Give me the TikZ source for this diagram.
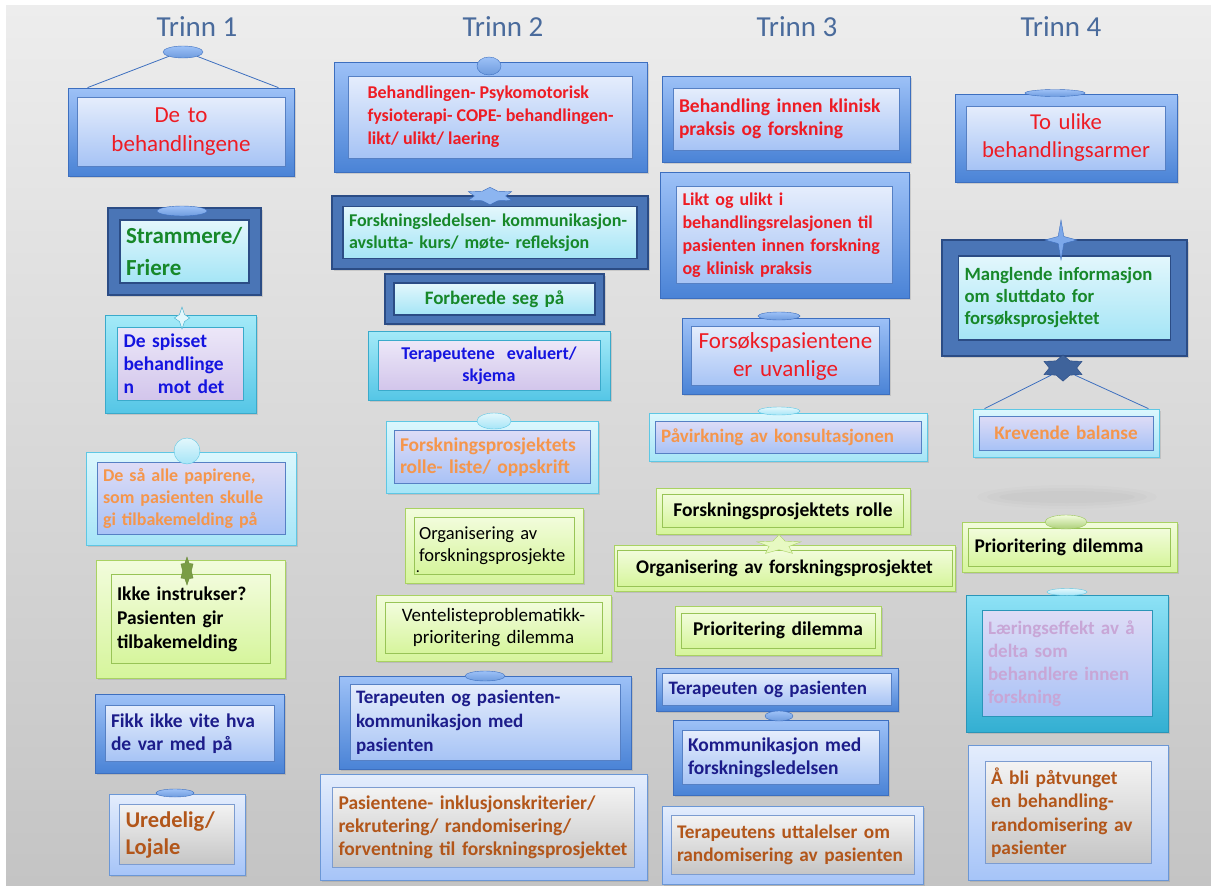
\documentclass[tikz,border=0pt]{standalone}
\usepackage{fontspec}
\setmainfont{Carlito}
\usetikzlibrary{shapes.geometric, shadows}

% text colours
\definecolor{tred}{HTML}{EE1C24}
\definecolor{tgreen}{HTML}{17882A}
\definecolor{tblue}{HTML}{1414E0}
\definecolor{torange}{HTML}{F5964C}
\definecolor{tnavy}{HTML}{1C1C8A}
\definecolor{tbrown}{HTML}{B2561A}
\definecolor{tlilac}{HTML}{C8A6D6}
\definecolor{ttitle}{HTML}{4A6B9C}
\definecolor{bgtop}{HTML}{EDEDED}
\definecolor{bgbot}{HTML}{C4C4C4}
% frame colours
\definecolor{bfTop}{HTML}{9DC1F7}
\definecolor{bfBot}{HTML}{4A83D6}
\definecolor{bfLine}{HTML}{3D6FBF}
\definecolor{biTop}{HTML}{E5EDFC}
\definecolor{biBot}{HTML}{A6C3F5}
\definecolor{biLine}{HTML}{5680C4}
\definecolor{dfFill}{HTML}{4A75B6}
\definecolor{dfLine}{HTML}{2B4C85}
\definecolor{ciTop}{HTML}{E3F7FC}
\definecolor{ciBot}{HTML}{A4E5F6}
\definecolor{bvTop}{HTML}{A4EAF8}
\definecolor{bvBot}{HTML}{55C6E6}
\definecolor{bvLine}{HTML}{3AAACB}
\definecolor{lvTop}{HTML}{ECE7F8}
\definecolor{lvBot}{HTML}{D2C5EB}
\definecolor{pcTop}{HTML}{DBF7FD}
\definecolor{pcBot}{HTML}{A6E5F7}
\definecolor{pcLine}{HTML}{5EC7E4}
\definecolor{lbTop}{HTML}{DEDCF6}
\definecolor{lbBot}{HTML}{A8C2F6}
\definecolor{gfTop}{HTML}{F2FCDC}
\definecolor{gfBot}{HTML}{D6F59C}
\definecolor{gfLine}{HTML}{A9D262}
\definecolor{giLine}{HTML}{98C456}
\definecolor{lfTop}{HTML}{E4EDFC}
\definecolor{lfBot}{HTML}{A6C4F8}
\definecolor{lfLine}{HTML}{6B97D6}
\definecolor{grTop}{HTML}{F3F3F3}
\definecolor{grBot}{HTML}{C5C5C5}
\definecolor{grLine}{HTML}{7C9CD0}
\definecolor{tlTop}{HTML}{8EE2F6}
\definecolor{tlBot}{HTML}{33AFD2}
\definecolor{tlLine}{HTML}{2A95B8}

\tikzset{
  softshadow/.style={drop shadow={opacity=0.25, shadow xshift=1.5pt, shadow yshift=-2pt}},
  frame/.style={rectangle, inner sep=0pt, softshadow},
  bluefr/.style={frame, draw=bfLine, line width=0.8pt, top color=bfTop, bottom color=bfBot},
  darkfr/.style={frame, draw=dfLine, line width=1.2pt, fill=dfFill},
  bevelfr/.style={frame, draw=bvLine, line width=0.8pt, top color=bvTop, bottom color=bvBot},
  palefr/.style={frame, draw=pcLine, line width=0.8pt, top color=pcTop, bottom color=pcBot},
  greenfr/.style={frame, draw=gfLine, line width=0.8pt, top color=gfTop, bottom color=gfBot},
  lightfr/.style={frame, draw=lfLine, line width=0.8pt, top color=lfTop, bottom color=lfBot},
  tealfr/.style={frame, draw=tlLine, line width=0.8pt, top color=tlTop, bottom color=tlBot},
  inbox/.style={rectangle, inner sep=6pt, line width=1pt, align=left},
  bluein/.style={inbox, draw=biLine, top color=biTop, bottom color=biBot},
  cyanin/.style={inbox, draw=dfLine, line width=1.5pt, top color=ciTop, bottom color=ciBot},
  lavin/.style={inbox, draw=bvLine, top color=lvTop, bottom color=lvBot},
  lbluein/.style={inbox, draw=biLine, top color=lbTop, bottom color=lbBot},
  greenin/.style={inbox, draw=giLine, top color=gfTop, bottom color=gfBot},
  grayin/.style={inbox, draw=grLine, top color=grTop, bottom color=grBot},
  sz/.style 2 args={font=\fontsize{#1}{#2}\selectfont\bfseries},
  rg/.style 2 args={font=\fontsize{#1}{#2}\selectfont},
  title/.style={font=\fontsize{29}{33}\selectfont, text=ttitle},
  knob/.style={ellipse, inner sep=0pt, draw=bfLine, top color=bfTop, bottom color=bfBot!80},
  cknob/.style={ellipse, inner sep=0pt, draw=pcLine, top color=ciTop, bottom color=pcBot},
  gknob/.style={ellipse, inner sep=0pt, draw=giLine, top color=gfTop, bottom color=giLine!80},
  hang/.style={draw=bfLine, line width=0.8pt},
}

\begin{document}
\begin{tikzpicture}[x=1pt, y=-1pt]

\useasboundingbox (0,0) rectangle (1211,886);
\shade [top color=bgtop, bottom color=bgbot] (6,5) rectangle (1211,886);

% headings
\node (t1) [title] at (197,27) {Trinn 1};
\node (t2) [title] at (503,27) {Trinn 2};
\node (t3) [title] at (797,27) {Trinn 3};
\node (t4) [title] at (1061,27) {Trinn 4};

% Trinn 1
\node (o1) [bluefr, minimum width=226pt, minimum height=88pt] at (181,132) {};
\node (b1) [bluein, text width=196pt, minimum height=69pt, rg={23}{29}, text=tred, align=center] at (o1) {De to\\behandlingene};
\node (o2) [darkfr, minimum width=153pt, minimum height=87pt] at (184.5,251.5) {};
\node (b2) [cyanin, text width=117pt, minimum height=63pt, sz={23}{32}, text=tgreen] at (o2) {Strammere/\\Friere};
\node (o3) [bevelfr, minimum width=151pt, minimum height=98pt] at (180.5,364) {};
\node (b3) [lavin, text width=114pt, minimum height=73pt, sz={19.5}{23}, text=tblue] at (o3) {De spisset\\behandlinge\\n\hspace{24pt}mot det};
\node (o4) [palefr, minimum width=210pt, minimum height=93pt] at (191,498.5) {};
\node (b4) [lbluein, text width=176pt, minimum height=69pt, sz={18}{22}, text=torange] at (o4) {De så alle papirene,\\som pasienten skulle\\gi tilbakemelding på};
\node (o5) [greenfr, minimum width=189pt, minimum height=118pt] at (190.5,619) {};
\node (b5) [greenin, text width=147pt, minimum height=89pt, sz={19.5}{24}, text=black] at (o5) {Ikke instrukser?\\Pasienten gir\\tilbakemelding};
\node (o6) [bluefr, minimum width=189pt, minimum height=79pt] at (189.5,733.5) {};
\node (b6) [bluein, text width=157pt, minimum height=56pt, sz={19.5}{23}, text=tnavy] at (o6) {Fikk ikke vite hva\\de var med på};
\node (o7) [lightfr, minimum width=136pt, minimum height=81pt] at (177,834.5) {};
\node (b7) [grayin, text width=103pt, minimum height=60pt, sz={22.5}{27}, text=tbrown] at (o7) {Uredelig/\\Lojale};

% Trinn 2
\node (o8) [bluefr, minimum width=313pt, minimum height=110pt] at (490.5,117) {};
\node (b8) [bluein, minimum width=284pt, minimum height=82pt, sz={18}{23}, text=tred] at (o8) {Behandlingen- Psykomotorisk\\fysioterapi- COPE- behandlingen-\\likt/ ulikt/ laering};
\node (o9) [darkfr, minimum width=316pt, minimum height=73pt] at (490,232.5) {};
\node (b9) [cyanin, text width=282pt, minimum height=52pt, sz={18}{22}, text=tgreen] at (o9) {Forskningsledelsen- kommunikasjon-\\avslutta- kurs/ møte- refleksjon};
\node (o10) [darkfr, minimum width=219pt, minimum height=50pt] at (494.5,299) {};
\node (b10) [cyanin, text width=189pt, minimum height=32pt, sz={19}{22}, text=tgreen, align=center] at (o10) {Forberede seg på};
\node (o11) [bevelfr, minimum width=242pt, minimum height=69pt] at (489,365.5) {};
\node (b11) [lavin, text width=210pt, minimum height=49pt, sz={18}{22}, text=tblue, align=center] at (o11) {Terapeutene\ \ evaluert/\\skjema};
\node (o12) [palefr, minimum width=212pt, minimum height=72pt] at (492,457) {};
\node (b12) [lbluein, text width=184pt, minimum height=53pt, sz={19.5}{22}, text=torange] at (o12) {Forskningsprosjektets\\rolle- liste/ oppskrift};
\node (o13) [greenfr, minimum width=178pt, minimum height=75pt] at (494,545.5) {};
\node (b13) [greenin, text width=150pt, minimum height=57pt, rg={18.5}{22}, text=black, inner sep=5pt] at (o13) {Organisering av\\forskningsprosjekte};
\node (d13) [rg={16}{18}] at (418,572) {.};
\node (o14) [greenfr, minimum width=235pt, minimum height=66pt] at (493.5,628) {};
\node (b14) [greenin, text width=205pt, minimum height=49pt, rg={19}{22}, text=black, align=center] at (o14) {Ventelisteproblematikk-\\prioritering dilemma};
\node (o15) [bluefr, minimum width=292pt, minimum height=93pt] at (485,722.5) {};
\node (b15) [bluein, text width=258pt, minimum height=70pt, sz={19}{24}, text=tnavy] at (o15) {Terapeuten og pasienten-\\kommunikasjon med\\pasienten};
\node (o16) [lightfr, minimum width=327pt, minimum height=106pt] at (483.5,827) {};
\node (b16) [grayin, text width=290pt, minimum height=80pt, sz={19.5}{23}, text=tbrown] at (o16) {Pasientene- inklusjonskriterier/\\rekrutering/ randomisering/\\forventning til forskningsprosjektet};

% Trinn 3
\node (o17) [bluefr, minimum width=248pt, minimum height=86pt] at (786,119) {};
\node (b17) [bluein, text width=214pt, minimum height=62pt, sz={19.5}{23}, text=tred] at (o17) {Behandling innen klinisk\\praksis og forskning};
\node (o18) [bluefr, minimum width=249pt, minimum height=126pt] at (784.5,235) {};
\node (b18) [bluein, text width=204pt, minimum height=95pt, sz={18}{23}, text=tred] at (o18) {Likt og ulikt i\\behandlingsrelasjonen til\\pasienten innen forskning\\og klinisk praksis};
\node (o19) [bluefr, minimum width=207pt, minimum height=76pt] at (785.5,356) {};
\node (b19) [bluein, text width=176pt, minimum height=56pt, rg={23}{28}, text=tred, align=center] at (o19) {Forsøkspasientene\\er uvanlige};
\node (o20) [palefr, minimum width=278pt, minimum height=48pt] at (788,437) {};
\node (b20) [lbluein, text width=254pt, minimum height=32pt, sz={19}{22}, text=torange] at (o20) {Påvirkning av konsultasjonen};
\node (o21) [greenfr, minimum width=254pt, minimum height=46pt] at (783,511) {};
\node (b21) [greenin, text width=229pt, minimum height=33pt, sz={19.5}{22}, text=black, align=center] at (o21) {Forskningsprosjektets rolle};
\node (o22) [greenfr, minimum width=341pt, minimum height=46pt] at (784.5,568) {};
\node (b22) [greenin, text width=323pt, minimum height=36pt, sz={19.3}{22}, text=black, align=center] at (o22) {Organisering av forskningsprosjektet};
\node (o23) [greenfr, minimum width=206pt, minimum height=49pt] at (778,630.5) {};
\node (b23) [greenin, text width=182pt, minimum height=35pt, sz={19.5}{22}, text=black, align=center] at (o23) {Prioritering dilemma};
\node (o24) [bluefr, minimum width=242pt, minimum height=43pt] at (777,689.5) {};
\node (b24) [bluein, text width=217pt, minimum height=32pt, sz={19}{22}, text=tnavy] at (o24) {Terapeuten og pasienten};
\node (o25) [bluefr, minimum width=215pt, minimum height=75pt] at (780.5,757.5) {};
\node (b25) [bluein, text width=185pt, minimum height=54pt, sz={19.5}{23}, text=tnavy] at (o25) {Kommunikasjon med\\forskningsledelsen};
\node (o26) [lightfr, minimum width=261pt, minimum height=78pt] at (792.5,845) {};
\node (b26) [grayin, text width=231pt, minimum height=59pt, sz={19.3}{23}, text=tbrown] at (o26) {Terapeutens uttalelser om\\randomisering av pasienten};

% Trinn 4
\node (o27) [bluefr, minimum width=222pt, minimum height=88pt] at (1066,138) {};
\node (b27) [bluein, text width=187pt, minimum height=64pt, rg={22.7}{28}, text=tred, align=center] at (o27) {To ulike\\behandlingsarmer};
\node (o28) [darkfr, minimum width=245pt, minimum height=116pt] at (1064.5,298) {};
\node (b28) [cyanin, text width=200pt, minimum height=84pt, sz={18.7}{22}, text=tgreen] at (o28) {Manglende informasjon\\om sluttdato for\\forsøksprosjektet};
\node (o29) [palefr, minimum width=186pt, minimum height=48pt] at (1066,433) {};
\node (b29) [lbluein, text width=162pt, minimum height=34pt, sz={19.2}{22}, text=torange, align=center] at (o29) {Krevende balanse};
\fill [black, opacity=0.012] (1067,497) ellipse (90 and 12);
\fill [black, opacity=0.015] (1067,497) ellipse (80 and 9);
\fill [black, opacity=0.015] (1067,497) ellipse (68 and 6);
\node (o30) [greenfr, minimum width=215pt, minimum height=50pt] at (1069.5,547) {};
\node (b30) [greenin, text width=190pt, minimum height=38pt, sz={19.4}{22}, text=black] at (o30) {Prioritering dilemma};
\node (o31) [tealfr, minimum width=202pt, minimum height=137pt] at (1067,663.5) {};
\node (b31) [lbluein, draw=tlLine, text width=158pt, minimum height=106pt, sz={19}{23}, text=tlilac] at (o31) {Læringseffekt av å\\delta som\\behandlere innen\\forskning};
\node (o32) [lightfr, minimum width=200pt, minimum height=135pt] at (1068,812.5) {};
\node (b32) [grayin, text width=154pt, minimum height=101pt, sz={19.4}{23.5}, text=tbrown] at (o32) {Å bli påtvunget\\en behandling-\\randomisering av\\pasienter};

% knobs and stars on the frames
\node (k1) [knob, minimum width=40pt, minimum height=12pt] at (183,52) {};
\draw [hang] (k1.south west) -- ([xshift=20pt]o1.north west);
\draw [hang] (k1.south east) -- ([xshift=-16pt]o1.north east);
\node (k2) [knob, minimum width=50pt, minimum height=10pt] at (182,211) {};
\node (k3) [star, star points=4, star point ratio=2.2, inner sep=0pt, minimum size=22pt, xscale=0.7, draw=bvLine, fill=ciTop] at (182,318) {};
\node (k4) [circle, inner sep=0pt, minimum size=26pt, draw=pcLine, top color=ciTop, bottom color=pcBot] at (187,451) {};
\node (k5) [star, star points=6, star point ratio=1.6, inner sep=0pt, minimum size=28pt, xscale=0.5, draw=giLine!70!black, fill=giLine!80!black] at (187,571) {};
\node (k7) [knob, minimum width=38pt, minimum height=8pt] at (175,793) {};
\node (k8) [knob, minimum width=24pt, minimum height=18pt] at (489,66) {};
\node (k9) [star, star points=6, star point ratio=1.6, inner sep=0pt, minimum size=50pt, yscale=0.35, draw=bfLine, fill=bfTop!80!bfBot] at (490,196) {};
\node (k12) [cknob, minimum width=34pt, minimum height=16pt] at (494,421) {};
\node (k15) [knob, minimum width=40pt, minimum height=10pt] at (485,676) {};
\node (k19) [knob, minimum width=42pt, minimum height=8pt] at (779,316) {};
\node (k20) [cknob, minimum width=42pt, minimum height=8pt] at (779,411) {};
\node (k22) [star, star points=5, star point ratio=2.2, inner sep=0pt, minimum size=46pt, yscale=0.45, draw=gfLine, fill=gfTop!60!gfBot] at (779,545) {};
\node (k25) [knob, minimum width=28pt, minimum height=10pt] at (779,716) {};
\node (k27) [knob, minimum width=60pt, minimum height=7pt] at (1055,93) {};
\node (k28) [star, star points=4, star point ratio=4, inner sep=0pt, minimum size=40pt, xscale=0.8, draw=bfLine, fill=bfTop!60!bfBot] at (1061,240) {};
\node (k29) [star, star points=6, star point ratio=1.6, inner sep=0pt, minimum size=44pt, yscale=0.6, draw=dfLine, fill=dfFill!85!black] at (1063,368) {};
\draw [hang] (k29.south west) -- ([xshift=12pt]o29.north west);
\draw [hang] (k29.south east) -- ([xshift=-11pt]o29.north east);
\node (k30) [gknob, minimum width=42pt, minimum height=14pt] at (1066,522) {};
\node (k31) [cknob, minimum width=40pt, minimum height=7pt] at (1067,592) {};

\end{tikzpicture}
\end{document}
